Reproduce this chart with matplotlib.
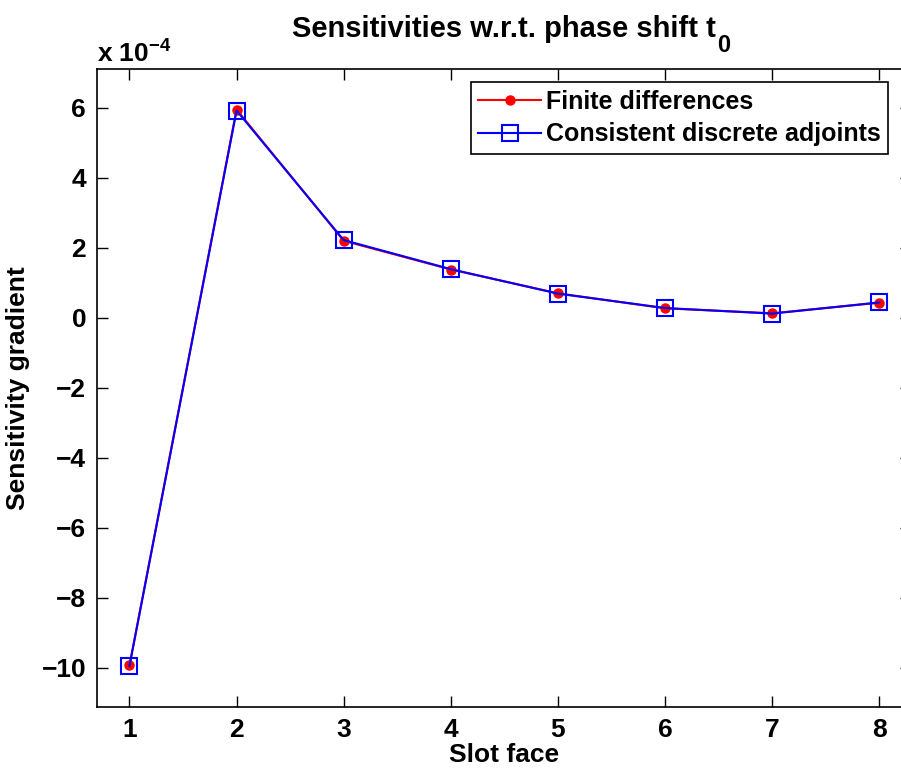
import matplotlib
matplotlib.use("Agg")
import matplotlib.pyplot as plt

# Sensitivity gradients per slot face (values in units of 1e-4)
slot_face = [1, 2, 3, 4, 5, 6, 7, 8]
finite_diff = [-9.93, 5.95, 2.20, 1.38, 0.70, 0.27, 0.13, 0.43]
discrete_adj = [-9.95, 5.92, 2.22, 1.39, 0.69, 0.28, 0.12, 0.44]
x_ticks = [1, 2, 3, 4, 5, 6, 7, 8]
y_ticks = [-10, -8, -6, -4, -2, 0, 2, 4, 6]

plt.rcParams["font.family"] = ["Liberation Sans", "DejaVu Sans"]
plt.rcParams["font.weight"] = "bold"
plt.rcParams["mathtext.fontset"] = "custom"
plt.rcParams["mathtext.rm"] = "Liberation Sans:bold"
plt.rcParams["mathtext.it"] = "Liberation Sans:bold"
plt.rcParams["mathtext.bf"] = "Liberation Sans:bold"

fig = plt.figure(figsize=(9.01, 7.68), dpi=100)
ax = fig.add_axes([0.108, 0.0798, 0.9036, 0.830])

ax.plot(slot_face, finite_diff, color="red", marker="o", markersize=6.5,
        linewidth=1.5, label="Finite differences")
ax.plot(slot_face, discrete_adj, color="blue", marker="s", markersize=11,
        markerfacecolor="none", markeredgewidth=1.5, linewidth=1.5,
        label="Consistent discrete adjoints")

ax.set_xlim(0.7, 8.3)
ax.set_ylim(-11.11, 7.1)
ax.set_xticks(x_ticks)
ax.set_yticks(y_ticks)
ax.set_yticklabels([str(v).replace("-", "\u2212") for v in y_ticks])
ax.tick_params(direction="in", length=8, width=1, top=True, right=True,
               labelsize=19, pad=8)
for lab in ax.get_xticklabels() + ax.get_yticklabels():
    lab.set_fontweight("bold")
for sp in ax.spines.values():
    sp.set_linewidth(1.2)

ax.set_xlabel("Slot face", fontsize=19, fontweight="bold", labelpad=1)
ax.set_ylabel("Sensitivity gradient", fontsize=19, fontweight="bold", labelpad=8)

# title with a MATLAB-style low subscript
title = ax.set_title("Sensitivities w.r.t. phase shift t", fontsize=21,
                     fontweight="bold", pad=23)
fig.canvas.draw()
tb = title.get_window_extent()
fig.text((tb.x1 + 1) / fig.bbox.width, (tb.y0 - 14) / fig.bbox.height, "0",
         fontsize=17, fontweight="bold", ha="left", va="bottom")

ax.text(0.0, 1.011, r"x 10$^{\mathregular{-4}}$", transform=ax.transAxes,
        fontsize=19, fontweight="bold", ha="left", va="baseline")

leg = ax.legend(loc="upper left", bbox_to_anchor=(0.459, 0.980),
                borderaxespad=0, fontsize=18, handlelength=2.5,
                labelspacing=0.35, fancybox=False, framealpha=1,
                edgecolor="black", borderpad=0.3, handletextpad=0.2)
leg.get_frame().set_linewidth(1.2)
for t in leg.get_texts():
    t.set_fontweight("bold")

fig.savefig("out.png", dpi=100)
